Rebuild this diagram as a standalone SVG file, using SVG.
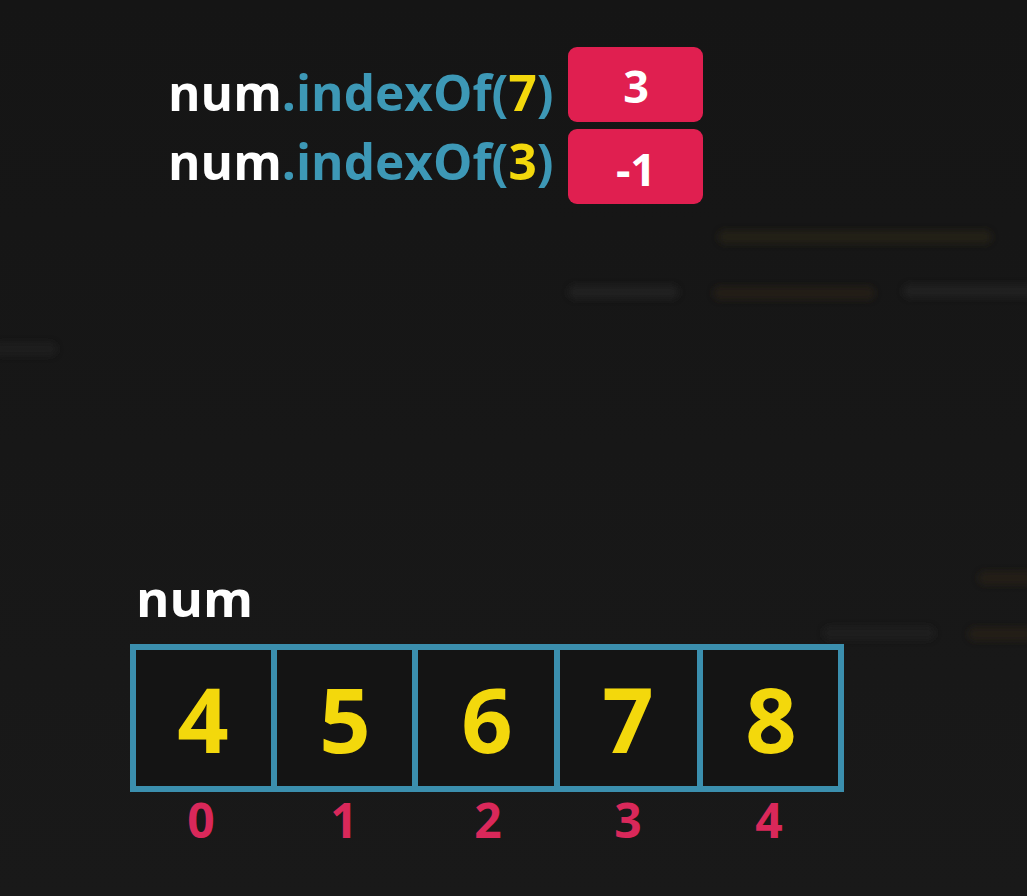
<svg xmlns="http://www.w3.org/2000/svg" width="1027" height="896" viewBox="0 0 1027 896">
<defs>
<style>
text{font-family:"Open Sans","Noto Sans","Liberation Sans",sans-serif;font-weight:700}
.code{font-size:51px}
.w{fill:#ffffff}
.t{fill:#3d98b6}
.y{fill:#f3d80c}
.badge{fill:#e01f50}
.badgeTxt{font-size:45px;fill:#ffffff;text-anchor:middle}
.cellTxt{font-size:90px;fill:#f3d80c;text-anchor:middle}
.idx{font-size:48px;fill:#d9285a;text-anchor:middle}
.bgl{stroke-linecap:round;stroke-width:14;fill:none}
</style>
<filter id="blur" x="-20%" y="-200%" width="140%" height="500%"><feGaussianBlur stdDeviation="3"/></filter>
<linearGradient id="bg" x1="0" y1="0" x2="0" y2="1">
<stop offset="0" stop-color="#151515"/>
<stop offset="1" stop-color="#191919"/>
</linearGradient>
</defs>
<rect width="1027" height="896" fill="url(#bg)"/>
<g id="background-code" filter="url(#blur)" opacity="0.6">
<line class="bgl" x1="725" y1="237" x2="985" y2="237" stroke="#2c2617"/>
<line class="bgl" x1="575" y1="292" x2="672" y2="292" stroke="#262626"/>
<line class="bgl" x1="720" y1="293" x2="868" y2="293" stroke="#2a2418"/>
<line class="bgl" x1="910" y1="291" x2="1027" y2="291" stroke="#262626"/>
<line class="bgl" x1="0" y1="349" x2="50" y2="349" stroke="#242424"/>
<line class="bgl" x1="830" y1="633" x2="928" y2="633" stroke="#222222"/>
<line class="bgl" x1="975" y1="634" x2="1027" y2="634" stroke="#2a2418"/>
<line class="bgl" x1="985" y1="578" x2="1027" y2="578" stroke="#2a2418"/>
</g>
<g id="call1">
<text class="code" transform="translate(168,111) scale(0.972,1)" x="0" y="0"><tspan class="w">num</tspan><tspan class="t">.indexOf(</tspan><tspan class="y">7</tspan><tspan class="t">)</tspan></text>
</g>
<g id="result1">
<rect class="badge" x="568" y="47" width="135" height="75" rx="9"/>
<text class="badgeTxt" x="636" y="103">3</text>
</g>
<g id="call2">
<text class="code" transform="translate(168,180) scale(0.972,1)" x="0" y="0"><tspan class="w">num</tspan><tspan class="t">.indexOf(</tspan><tspan class="y">3</tspan><tspan class="t">)</tspan></text>
</g>
<g id="result2">
<rect class="badge" x="568" y="129" width="135" height="75" rx="9"/>
<text class="badgeTxt" x="636" y="186">-1</text>
</g>
<g id="array-label">
<text class="code w" x="136" y="617">num</text>
</g>
<g id="array">
<rect x="133" y="647" width="708" height="142" fill="#141414" stroke="#3b8fae" stroke-width="6"/>
<g stroke="#3b8fae" stroke-width="6">
<line x1="274" y1="647" x2="274" y2="789"/>
<line x1="415" y1="647" x2="415" y2="789"/>
<line x1="557" y1="647" x2="557" y2="789"/>
<line x1="700" y1="647" x2="700" y2="789"/>
</g>
</g>
<g id="cell0"><text class="cellTxt" x="203" y="753">4</text><text class="idx" x="201" y="838">0</text></g>
<g id="cell1"><text class="cellTxt" x="345" y="753">5</text><text class="idx" x="344" y="838">1</text></g>
<g id="cell2"><text class="cellTxt" x="487" y="753">6</text><text class="idx" x="488" y="838">2</text></g>
<g id="cell3"><text class="cellTxt" x="628" y="753">7</text><text class="idx" x="628" y="838">3</text></g>
<g id="cell4"><text class="cellTxt" x="771" y="753">8</text><text class="idx" x="769" y="838">4</text></g>
<g id="connectors"/>
</svg>
